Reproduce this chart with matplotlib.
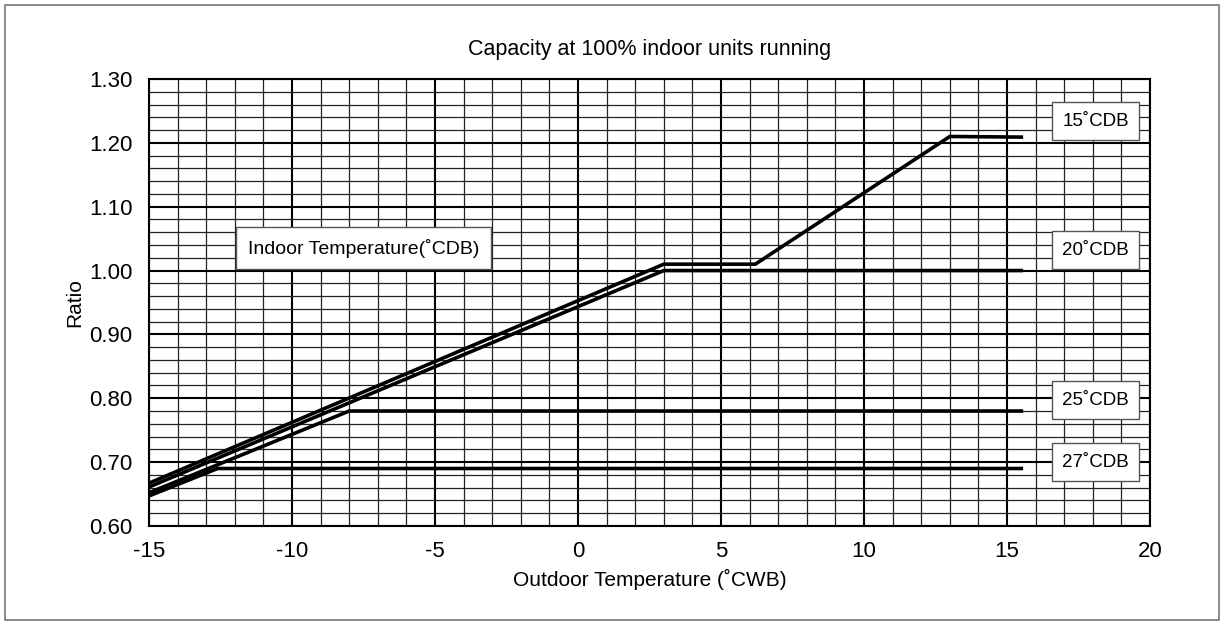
import numpy as np
import matplotlib
matplotlib.use("Agg")
import matplotlib.pyplot as plt
from matplotlib.patches import Rectangle

plt.rcParams['font.family'] = ['Liberation Sans', 'DejaVu Sans']
plt.rcParams['axes.unicode_minus'] = False

# --- data --------------------------------------------------------------------
x15 = [-15, 3, 6.2, 13, 15.5]
y15 = [0.667, 1.01, 1.01, 1.21, 1.209]
x20 = [-15, 3, 15.5]
y20 = [0.661, 1.00, 1.00]
x25 = [-15, -8, 15.5]
y25 = [0.652, 0.78, 0.78]
x27 = [-15, -12.6, 15.5]
y27 = [0.647, 0.69, 0.69]

curve_labels = ["15˚CDB", "20˚CDB", "25˚CDB", "27˚CDB"]
label_y = [1.234, 1.032, 0.797, 0.700]
label_x = 18.1

xticks = [-15, -10, -5, 0, 5, 10, 15, 20]
yticks = [0.60, 0.70, 0.80, 0.90, 1.00, 1.10, 1.20, 1.30]

fig = plt.figure(figsize=(12.25, 6.24), dpi=100)
ax = fig.add_axes([0.1216, 0.1571, 0.8172, 0.7163])

# graph-paper grid
for xv in np.arange(-15, 20.01, 1):
    major = abs(xv % 5) < 1e-9
    ax.axvline(xv, color='black' if major else '#222222',
               lw=1.5 if major else 0.9, zorder=1)
for yv in np.arange(0.60, 1.3001, 0.02):
    major = abs(round(yv * 100) % 10) < 1e-9
    ax.axhline(yv, color='black' if major else '#222222',
               lw=1.5 if major else 0.9, zorder=1)

for xs, ys in [(x15, y15), (x20, y20), (x25, y25), (x27, y27)]:
    ax.plot(xs, ys, color='black', lw=2.6, solid_joinstyle='miter', zorder=3)

box = dict(boxstyle='square,pad=0.55', fc='white', ec='#555555', lw=1.0)
for lab, yv in zip(curve_labels, label_y):
    ax.text(label_x, yv, lab, ha='center', va='center', fontsize=13.5,
            bbox=box, zorder=4)
ax.text(-7.5, 1.035, "Indoor Temperature(˚CDB)", ha='center', va='center',
        fontsize=14, bbox=dict(boxstyle='square,pad=0.6', fc='white',
                               ec='#555555', lw=1.0), zorder=4)

ax.set_xlim(-15, 20)
ax.set_ylim(0.60, 1.30)
ax.set_xticks(xticks)
ax.set_yticks(yticks)
ax.set_yticklabels([f"{v:.2f}" for v in yticks])
ax.tick_params(length=0, labelsize=16)
ax.tick_params(axis='y', pad=12)
ax.tick_params(axis='x', pad=11)
for s in ax.spines.values():
    s.set_linewidth(1.5)

ax.set_title("Capacity at 100% indoor units running", fontsize=15.5, pad=17)
ax.set_xlabel("Outdoor Temperature (˚CWB)", fontsize=15, labelpad=5)
ax.set_ylabel("Ratio", fontsize=15, labelpad=3)

# outer frame
fig.patches.append(Rectangle((5 / 1225, 4 / 624), 1214 / 1225, 615 / 624,
                             transform=fig.transFigure, fill=False,
                             ec='#777777', lw=1.2))

fig.savefig("out.png", dpi=100)
